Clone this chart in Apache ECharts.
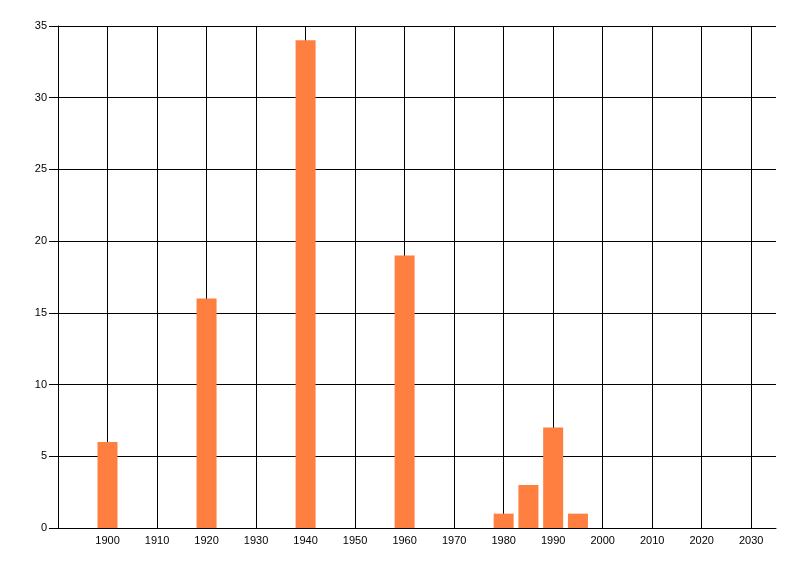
<!DOCTYPE html>
<html>
<head>
<meta charset="utf-8">
<script src="https://cdn.jsdelivr.net/npm/echarts@6/dist/echarts.min.js"></script>
<style>html,body{margin:0;padding:0;background:#fff}#c{width:800px;height:576px}</style>
</head>
<body>
<div id="c"></div>
<script>
var years = [1900, 1920, 1940, 1960, 1980, 1985, 1990, 1995];
var counts = [6, 16, 34, 19, 1, 3, 7, 1];
var xTickStart = 1890, xTickEnd = 2035, xStep = 10;
var yMin = 0, yMax = 35, yStep = 5;

var chart = echarts.init(document.getElementById('c'));
chart.setOption({
  animation: false,
  backgroundColor: '#ffffff',
  grid: {left: 58, right: 24, top: 26, bottom: 48, containLabel: false},
  xAxis: {
    type: 'value', min: xTickStart, max: xTickEnd, interval: xStep,
    axisLine: {show: true, lineStyle: {color: '#000', width: 1}},
    axisTick: {show: false},
    axisLabel: {color: '#000', fontFamily: 'Liberation Sans', fontSize: 11, margin: 7,
      showMinLabel: false, showMaxLabel: false,
      formatter: function (v) { return String(v); }},
    splitLine: {show: true, showMinLine: true, showMaxLine: false, lineStyle: {color: '#000', width: 1}}
  },
  yAxis: {
    type: 'value', min: yMin, max: yMax, interval: yStep,
    axisLine: {show: true, lineStyle: {color: '#000', width: 1}},
    axisTick: {show: true, length: 9, lineStyle: {color: '#000'}},
    axisLabel: {color: '#000', fontFamily: 'Liberation Sans', fontSize: 11, margin: 11},
    splitLine: {show: true, lineStyle: {color: '#000', width: 1}}
  },
  series: [{
    type: 'bar',
    barWidth: 20,
    itemStyle: {color: '#FF7F40'},
    data: years.map(function (y, i) { return [y, counts[i]]; })
  }]
});
</script>
</body>
</html>
